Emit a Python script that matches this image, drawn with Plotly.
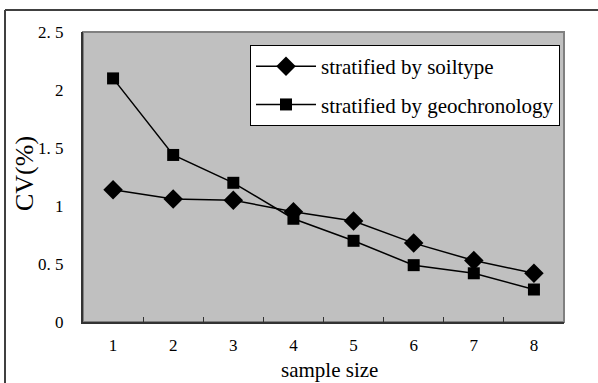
import plotly.graph_objects as go

sample_size = [1, 2, 3, 4, 5, 6, 7, 8]
soiltype = [1.14, 1.06, 1.05, 0.95, 0.87, 0.68, 0.53, 0.42]
geochronology = [2.10, 1.44, 1.20, 0.89, 0.70, 0.49, 0.42, 0.28]
y_ticks = [0, 0.5, 1, 1.5, 2, 2.5]
y_tick_text = ["0", "0. 5", "1", "1. 5", "2", "2. 5"]

W, H = 598, 383
L, R, T, B = 83, 564, 32, 322

def px_x(p):
    return (p - L) / (R - L)

def px_y(p):
    return (B - p) / (B - T)

FONT = "Liberation Serif"

fig = go.Figure()
fig.add_trace(go.Scatter(
    x=sample_size, y=soiltype, mode="lines+markers",
    name="stratified by soiltype", legendgroup="a",
    line=dict(color="black", width=1.5),
    marker=dict(symbol="diamond", size=15, color="black"),
))
fig.add_trace(go.Scatter(
    x=sample_size, y=geochronology, mode="lines+markers",
    name="stratified by geochronology", legendgroup="b",
    line=dict(color="black", width=1.5),
    marker=dict(symbol="square", size=12, color="black"),
))

fig.update_layout(
    width=W, height=H,
    margin=dict(l=L, r=W - R, t=T, b=H - B),
    paper_bgcolor="white",
    plot_bgcolor="#C0C0C0",
    font=dict(family=FONT, color="black", size=17),
    showlegend=True,
    legend=dict(
        x=px_x(560), y=px_y(45), xanchor="right", yanchor="top",
        bgcolor="white", bordercolor="black", borderwidth=1,
        font=dict(family=FONT, size=21), itemwidth=60,
        tracegroupgap=8,
    ),
    xaxis=dict(
        range=[0.5, 8.5], tickvals=sample_size, ticktext=[str(v) for v in sample_size],
        ticks="", showgrid=False, zeroline=False,
        showline=True, linecolor="#333333", linewidth=2,
        ticklabelstandoff=7,
        tickfont=dict(family=FONT, size=17),
        minor=dict(tickvals=[1.5, 2.5, 3.5, 4.5, 5.5, 6.5, 7.5], ticks="inside",
                   ticklen=5, tickwidth=1, tickcolor="#333333", showgrid=False),
    ),
    yaxis=dict(
        range=[0, 2.5], tickvals=y_ticks, ticktext=y_tick_text,
        ticks="", showgrid=False, zeroline=False,
        showline=True, linecolor="#333333", linewidth=2,
        ticklabelstandoff=14,
        tickfont=dict(family=FONT, size=17),
    ),
    annotations=[
        dict(text="CV(%)", xref="paper", yref="paper", x=px_x(24), y=px_y(174),
             textangle=-90, showarrow=False, xanchor="center", yanchor="middle",
             font=dict(family=FONT, size=26)),
        dict(text="sample size", xref="paper", yref="paper", x=px_x(329), y=px_y(370),
             showarrow=False, xanchor="center", yanchor="middle", borderpad=0,
             font=dict(family=FONT, size=21)),
    ],
    shapes=[
        dict(type="rect", xref="paper", yref="paper", x0=0, x1=1, y0=0, y1=1,
             line=dict(color="#808080", width=2), layer="below"),
        dict(type="line", xref="paper", yref="paper",
             x0=px_x(5), x1=px_x(598), y0=px_y(10), y1=px_y(10),
             line=dict(color="#404040", width=2)),
        dict(type="line", xref="paper", yref="paper",
             x0=px_x(5), x1=px_x(5), y0=px_y(10), y1=px_y(383),
             line=dict(color="#404040", width=2)),
    ],
)

fig.write_html("out.html")
